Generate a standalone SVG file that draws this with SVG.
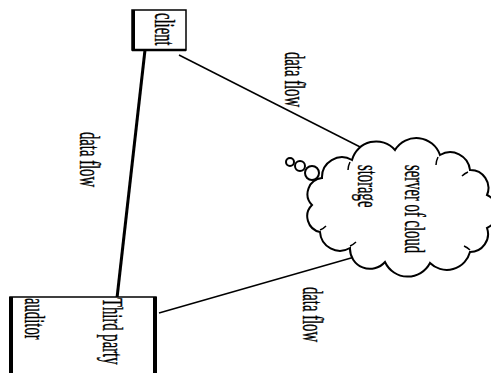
<svg xmlns="http://www.w3.org/2000/svg" width="491" height="373" viewBox="0 0 491 373">
<style>
.t{font-family:"Liberation Serif","Times New Roman",serif;font-size:30px;fill:#000;stroke:#000;stroke-width:0.4}
.box{fill:#fff;stroke:#000;stroke-width:1.5}
.ln{stroke:#000;fill:none}
.cl{fill:#fff;stroke:#000;stroke-width:2}
</style>
<rect width="491" height="373" fill="#fff"/>
<g id="connectors">
<line class="ln" x1="145" y1="50" x2="117" y2="298" stroke-width="3"/>
<line class="ln" x1="179" y1="55" x2="372" y2="153" stroke-width="1.5"/>
<line class="ln" x1="159" y1="313" x2="372" y2="252" stroke-width="1.5"/>
</g>
<g id="client">
<rect class="box" x="132" y="10" width="54" height="40"/>
<line x1="133.5" y1="10" x2="133.5" y2="50" stroke="#000" stroke-width="3"/>
<line x1="132" y1="50" x2="186" y2="50" stroke="#000" stroke-width="2.5"/>
<text class="t" transform="translate(155,13) rotate(90) scale(0.49,1)">client</text>
</g>
<g id="auditor">
<rect class="box" x="10" y="297" width="146" height="90"/>
<line x1="11" y1="297" x2="11" y2="373" stroke="#000" stroke-width="4"/>
<line x1="155" y1="297" x2="155" y2="373" stroke="#000" stroke-width="4"/>
<text class="t" transform="translate(103,298) rotate(90) scale(0.49,1)">Third party</text>
<text class="t" transform="translate(25,298) rotate(90) scale(0.49,1)">auditor</text>
</g>
<g id="cloud">
<path class="cl" d="M322,178 A20,20 0 0 1 352,160 A25,25 0 0 1 395,150 A25,25 0 0 1 440,155 A20,20 0 0 1 470,170 A18,18 0 0 1 487,195 A18,18 0 0 1 487,228 A18,18 0 0 1 470,252 A24,24 0 0 1 430,263 A25,25 0 0 1 385,262 A20,20 0 0 1 350,248 A20,20 0 0 1 320,232 A16,16 0 0 1 312,205 A16,16 0 0 1 322,178 Z"/>
<path fill="none" stroke="#000" stroke-width="1.5" d="M350,162 A20,20 0 0 0 348,170 M438,157 A20,20 0 0 0 436,165 M468,172 A18,18 0 0 0 462,176 M470,250 A18,18 0 0 0 464,246 M350,246 A20,20 0 0 0 356,242 M320,230 A16,16 0 0 0 326,226"/>
<circle class="cl" cx="290" cy="162" r="4"/>
<circle class="cl" cx="300" cy="166" r="5"/>
<circle class="cl" cx="312" cy="173" r="7"/>
<text class="t" transform="translate(405,165) rotate(90) scale(0.49,1)">server of cloud</text>
<text class="t" transform="translate(358,165) rotate(90) scale(0.49,1)">storage</text>
</g>
<g id="labels">
<text class="t" transform="translate(285,52) rotate(90) scale(0.49,1)">data flow</text>
<text class="t" transform="translate(80,132) rotate(90) scale(0.49,1)">data flow</text>
<text class="t" transform="translate(303,287) rotate(90) scale(0.49,1)">data flow</text>
</g>
</svg>
